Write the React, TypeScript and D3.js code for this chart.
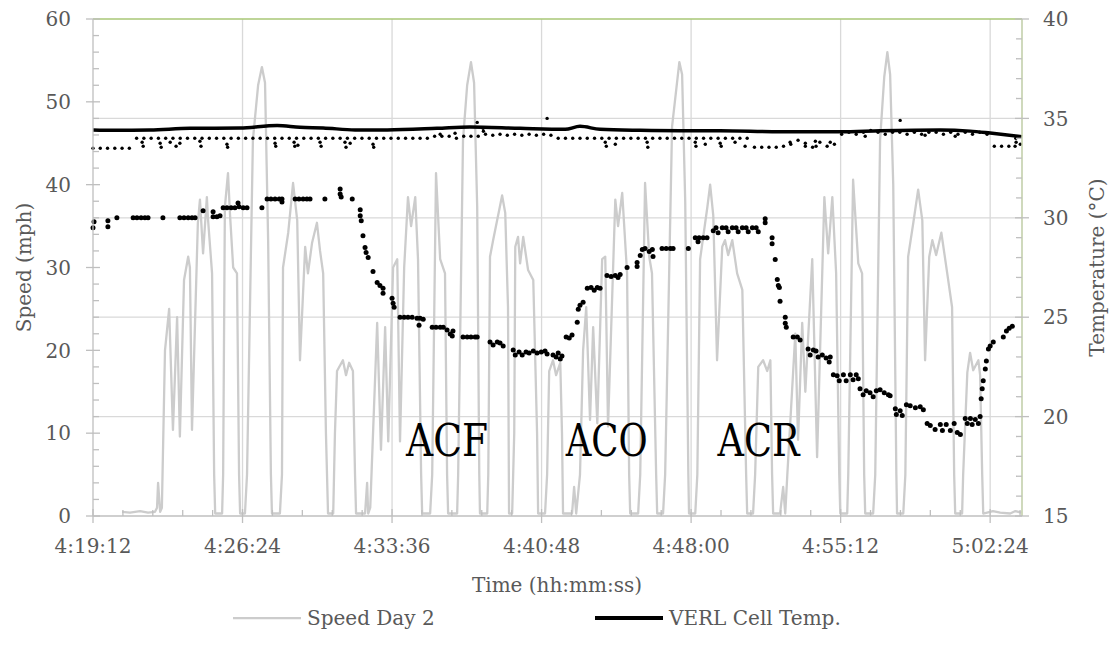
import React from "react";
import * as d3 from "d3";

const W = 1113;
const H = 647;
const T0 = 4 * 3600 + 19 * 60 + 12; // 4:19:12, seconds
const T_MAX = 2684; // elapsed seconds at right edge
const xTicks = [0, 432, 864, 1296, 1728, 2160, 2592];
const xMinorStep = 86.4;
const speedTicks = [0, 10, 20, 30, 40, 50, 60];
const tempTicks = [15, 20, 25, 30, 35, 40];

// Speed Day 2 : [elapsed s, mph]
const speedDay2: [number, number][] = [
  [84, 0.5], [107, 0.4], [136, 0.6], [159, 0.4], [179, 0.5], [185, 1], [188, 4], [194, 0.5], [199, 1],
  [208, 20], [220, 25], [231, 10.4], [243, 24], [251, 9.6], [263, 28.5], [275, 31.3], [280, 30], [286, 10.4],
  [303, 35.4], [309, 38.2], [318, 31.7], [329, 38.5], [332, 36], [344, 29.3], [350, 5], [353, 0.3], [373, 0.3],
  [376, 5], [381, 37.3], [390, 41.4], [396, 36.3], [405, 30], [416, 29.3], [422, 5], [425, 0.3], [439, 0.3],
  [445, 5], [462, 45.4], [477, 52], [488, 54.2], [497, 52.3], [506, 33.3], [514, 5], [517, 0.3], [540, 0.3],
  [546, 5], [549, 30], [564, 34.2], [578, 40.2], [590, 35.7], [598, 18.8], [613, 32.5], [621, 29.3], [633, 33],
  [647, 35.4], [656, 32], [665, 29.3], [673, 10], [679, 0.3], [694, 0.3], [699, 10], [705, 17.5], [722, 18.8],
  [731, 17], [740, 18.5], [751, 17.5], [757, 5], [760, 0.3], [786, 0.3], [792, 4], [795, 0.3], [801, 1],
  [821, 23.3], [832, 8], [844, 22.8], [853, 9], [867, 30], [879, 31], [887, 9], [899, 30], [910, 38.5],
  [919, 35], [931, 38.5], [939, 31], [948, 5], [951, 0.3], [974, 0.3], [980, 5], [991, 41.4], [1003, 31],
  [1017, 29.3], [1023, 5], [1026, 0.3], [1052, 0.3], [1055, 5], [1069, 45.4], [1081, 52], [1092, 54.8],
  [1101, 52.3], [1110, 37.3], [1116, 5], [1118, 0.3], [1139, 0.3], [1142, 5], [1147, 31.3], [1156, 33.3],
  [1182, 38.7], [1191, 36.6], [1199, 25.2], [1202, 0.3], [1211, 0.3], [1217, 10], [1220, 32.5], [1228, 33.7],
  [1234, 30.5], [1243, 33.7], [1257, 29.7], [1272, 28.5], [1283, 10], [1286, 0.3], [1306, 0.3], [1312, 5],
  [1318, 17.5], [1329, 18.8], [1338, 17], [1350, 18.5], [1355, 10], [1358, 0.3], [1384, 0.3], [1390, 3.5],
  [1396, 0.3], [1407, 5], [1416, 20], [1425, 25.2], [1436, 11.6], [1445, 22.8], [1457, 11.2], [1471, 31],
  [1480, 31.3], [1488, 10.8], [1509, 38.2], [1517, 35], [1529, 39], [1543, 29.3], [1549, 5], [1552, 0.3],
  [1575, 0.3], [1581, 5], [1595, 40.2], [1607, 31.3], [1615, 29.3], [1627, 5], [1630, 0.3], [1647, 0.3],
  [1653, 5], [1673, 47], [1694, 54.8], [1702, 53.3], [1711, 38], [1720, 5], [1722, 0.3], [1740, 0.3],
  [1746, 5], [1754, 31], [1775, 37.3], [1783, 40], [1792, 36.3], [1803, 18.8], [1818, 32.5], [1826, 33.3],
  [1835, 31.5], [1847, 33.3], [1861, 29.3], [1876, 27.3], [1887, 5], [1890, 0.3], [1907, 0.3], [1913, 5],
  [1922, 18], [1936, 18.8], [1948, 17.5], [1957, 18.8], [1962, 5], [1965, 0.3], [1985, 0.3], [1994, 3.5],
  [2000, 0.3], [2006, 5], [2029, 22], [2037, 9.2], [2049, 23.3], [2058, 15], [2078, 31], [2092, 7.1],
  [2113, 38.5], [2124, 31.7], [2136, 38.5], [2147, 29.3], [2156, 5], [2159, 0.3], [2179, 0.3], [2182, 5],
  [2196, 40.6], [2211, 30.5], [2222, 29.3], [2228, 5], [2231, 0.3], [2254, 0.3], [2260, 5], [2274, 45.4],
  [2286, 53], [2295, 56], [2303, 53.3], [2312, 40], [2321, 5], [2323, 0.3], [2341, 0.3], [2347, 5],
  [2355, 31.3], [2370, 35.4], [2384, 39.4], [2396, 35.7], [2404, 18.8], [2416, 31.3], [2425, 33.3],
  [2436, 31.5], [2451, 34.2], [2468, 29.3], [2482, 25.2], [2488, 5], [2491, 0.3], [2511, 0.3], [2514, 5],
  [2526, 17.3], [2534, 19.7], [2543, 17.6], [2558, 18.8], [2563, 17], [2569, 5], [2572, 0.3], [2600, 0.6],
  [2621, 0.4], [2650, 0.3], [2665, 0.6], [2682, 0.4],
];

// VERL Cell Temp. : [elapsed s, degC]
const verlCellTemp: [number, number][] = [
  [0, 34.42], [60, 34.4], [165, 34.42], [280, 34.5], [425, 34.52], [532, 34.64], [598, 34.55], [665, 34.52],
  [757, 34.42], [850, 34.42], [994, 34.5], [1089, 34.57], [1234, 34.5], [1364, 34.45], [1407, 34.6],
  [1465, 34.45], [1581, 34.4], [1696, 34.38], [1812, 34.38], [1985, 34.33], [2159, 34.33], [2274, 34.38],
  [2448, 34.42], [2534, 34.36], [2592, 34.26], [2684, 34.08],
];

// Second temperature probe (markers only), one sample every 21 s
const probeStep = 21;
const probeTemp: number[] = [
  33.5, 33.5, 33.5, 33.5, 33.5, 33.5, 34.0, 34.0, 34.0, 34.0, 34.0, 34.0, 34.0, 34.0, 34.0, 34.0,
  34.0, 34.0, 34.0, 34.0, 34.0, 34.0, 34.0, 34.0, 34.0, 34.0, 34.0, 34.0, 34.0, 34.0, 34.0, 34.0,
  34.0, 34.0, 34.0, 34.0, 34.0, 34.0, 34.0, 34.0, 34.0, 34.0, 34.0, 34.0, 34.0, 34.0, 34.0, 34.1,
  34.1, 34.1, 34.0, 34.1, 34.1, 34.1, 34.2, 34.15, 34.2, 34.15, 34.2, 34.15, 34.2, 34.15, 34.2, 34.15,
  34.0, 34.0, 34.0, 34.0, 34.0, 34.0, 34.0, 34.0, 34.0, 34.0, 34.0, 34.0, 34.0, 34.0, 34.0, 34.0,
  34.0, 34.0, 34.0, 34.0, 34.0, 34.0, 34.0, 34.0, 34.0, 34.0, 34.0, 33.55, 33.55, 33.55, 33.55, 33.6,
  33.7, 33.9, 33.6, 33.55, 33.8, 33.6, 33.7, 34.2, 34.3, 34.2, 34.3, 34.4, 34.3, 34.2, 34.3, 34.3,
  34.2, 34.3, 34.2, 34.3, 34.3, 34.2, 34.3, 34.2, 34.3, 34.2, 34.3, 34.2, 33.6, 33.6, 33.6, 33.8,
];
const probeTempExtra: [number, number][] = [
  [142, 33.8], [145, 33.6], [194, 33.75], [197, 33.55], [223, 33.8], [240, 33.6], [251, 33.75],
  [309, 33.85], [312, 33.6], [387, 33.7], [389, 33.55], [526, 33.75], [528, 33.6], [581, 33.8], [583, 33.6],
  [592, 33.65], [656, 33.8], [659, 33.6], [728, 33.8], [731, 33.55], [743, 33.75], [809, 33.7], [811, 33.55],
  [1003, 34.2], [1046, 34.25], [1110, 34.8], [1127, 34.5], [1128, 34.35], [1312, 35.0], [1480, 33.8],
  [1483, 33.6], [1509, 33.7], [1601, 33.8], [1603, 33.55], [1740, 33.8], [1742, 33.6], [1769, 33.7],
  [1812, 33.75], [1815, 33.6], [1855, 33.8], [1884, 33.6], [2014, 33.8], [2058, 33.75], [2087, 33.85],
  [2089, 33.6], [2130, 33.8], [2231, 34.1], [2332, 34.9], [2404, 34.15], [2491, 34.1], [2664, 33.6],
  [2666, 34.0], [2679, 33.7],
];

// Cabin temperature (markers only): [elapsed s, degC]
const cabinTemp: [number, number][] = [
  [0, 29.5], [3, 29.8], [43, 29.55], [43, 29.85], [69, 30.0],
  [116, 30.0], [127, 30.0], [139, 30.0], [150, 30.0], [159, 30.0], [202, 30.0],
  [251, 30.0], [263, 30.0], [275, 30.0], [286, 30.0], [295, 30.0], [318, 30.35],
  [347, 30.3], [347, 30.05], [358, 30.05], [367, 30.1],
  [376, 30.5], [387, 30.5], [399, 30.5], [410, 30.5], [419, 30.75], [422, 30.55], [434, 30.5], [445, 30.5],
  [488, 30.5], [503, 30.95], [514, 30.95], [526, 30.95], [538, 30.95], [546, 30.95], [546, 30.8],
  [584, 30.95], [595, 30.95], [607, 30.95], [618, 30.95], [627, 30.95], [670, 30.95],
  [714, 31.45], [714, 31.2], [717, 31.05], [749, 30.95],
  [772, 30.4], [772, 30.1], [775, 29.85], [780, 29.1], [786, 28.5], [789, 28.25], [795, 28.0], [809, 27.3],
  [821, 26.75], [829, 26.6], [838, 26.45], [838, 26.2], [864, 25.95], [867, 25.7], [870, 25.5],
  [887, 25.0], [899, 25.0], [910, 25.0], [922, 25.0], [936, 24.95], [942, 24.6], [945, 24.95], [954, 24.9],
  [980, 24.5], [991, 24.5], [1003, 24.5], [1012, 24.5],
  [1023, 24.35], [1032, 24.15], [1038, 24.05], [1040, 24.3],
  [1069, 24.0], [1081, 24.0], [1092, 24.0], [1104, 24.0], [1110, 24.0],
  [1147, 23.75], [1156, 23.6], [1168, 23.75], [1176, 23.7], [1185, 23.55],
  [1214, 23.35], [1220, 23.1], [1231, 23.25], [1240, 23.1], [1251, 23.25], [1260, 23.2], [1272, 23.3],
  [1283, 23.2], [1295, 23.25], [1306, 23.3], [1312, 23.15],
  [1329, 23.1], [1338, 23.0], [1344, 23.2], [1350, 22.9], [1355, 23.05],
  [1367, 24.0], [1376, 23.95], [1384, 24.1], [1399, 24.75], [1402, 25.4], [1407, 25.6], [1416, 25.75],
  [1428, 26.45], [1439, 26.5], [1448, 26.35], [1457, 26.5], [1465, 26.45],
  [1485, 27.1], [1497, 27.05], [1509, 27.1], [1517, 27.0], [1523, 27.15], [1543, 27.5],
  [1572, 27.75], [1572, 27.55],
  [1581, 28.1], [1587, 28.4], [1595, 28.45], [1607, 28.3], [1616, 28.4], [1618, 28.05],
  [1644, 28.45], [1656, 28.45], [1668, 28.45], [1676, 28.45], [1720, 28.45],
  [1740, 29.0], [1748, 28.8], [1751, 29.0], [1763, 29.0], [1774, 29.0],
  [1792, 29.35], [1800, 29.5], [1806, 29.25], [1818, 29.5], [1829, 29.5], [1835, 29.3], [1847, 29.5],
  [1858, 29.5], [1864, 29.3], [1876, 29.5], [1887, 29.5], [1893, 29.3], [1905, 29.5], [1916, 29.5], [1922, 29.3],
  [1942, 29.95], [1942, 29.75], [1962, 29.0], [1962, 28.7], [1971, 27.9],
  [1977, 26.9], [1980, 26.6], [1983, 26.5], [1985, 25.8], [2000, 25.0], [2000, 24.7], [2003, 24.5],
  [2023, 24.0], [2035, 24.0], [2043, 23.85],
  [2066, 23.4], [2072, 23.1], [2081, 23.35], [2089, 23.3], [2095, 23.0], [2107, 23.1], [2118, 22.95],
  [2127, 22.75], [2130, 23.0],
  [2139, 22.1], [2150, 22.05], [2156, 21.8], [2168, 22.1], [2176, 21.8], [2188, 22.1], [2196, 21.85],
  [2205, 22.1], [2211, 21.9],
  [2216, 21.4], [2225, 21.1], [2234, 21.3], [2245, 21.2], [2254, 21.0], [2263, 21.3], [2274, 21.35],
  [2286, 21.2], [2298, 21.1], [2303, 21.05],
  [2318, 20.4], [2321, 20.1], [2332, 20.3], [2338, 20.05], [2350, 20.6], [2361, 20.55], [2376, 20.45],
  [2390, 20.5], [2399, 20.35],
  [2410, 19.65], [2419, 19.55], [2433, 19.35], [2448, 19.6], [2454, 19.3], [2465, 19.6], [2477, 19.3],
  [2488, 19.65], [2497, 19.2], [2506, 19.1],
  [2520, 19.9], [2526, 19.65], [2535, 19.9], [2540, 19.6], [2549, 19.85], [2558, 19.65], [2563, 20.0],
  [2566, 20.9], [2569, 21.4], [2572, 21.8], [2578, 22.4], [2581, 22.8],
  [2587, 23.4], [2592, 23.55], [2601, 23.75],
  [2630, 24.0], [2639, 24.3], [2647, 24.45], [2656, 24.55],
];

const annotations: { label: string; t: number; speed: number }[] = [
  { label: "ACF", t: 1023, speed: 7.3 },
  { label: "ACO", t: 1484, speed: 7.3 },
  { label: "ACR", t: 1923, speed: 7.3 },
];

const legendItems = [
  { label: "Speed Day 2", color: "#cccccc", width: 2.25 },
  { label: "VERL Cell Temp.", color: "#000000", width: 4 },
];

const FONT = "DejaVu Serif, serif";
const GRAY_TXT = "#595959";

function fmtTime(t: number) {
  const s = Math.round(T0 + t);
  const h = Math.floor(s / 3600);
  const m = Math.floor((s % 3600) / 60);
  const sec = s % 60;
  return `${h}:${String(m).padStart(2, "0")}:${String(sec).padStart(2, "0")}`;
}

export default function App() {
  const L = 93, R = 1022, T = 19, B = 516;
  const x = d3.scaleLinear().domain([0, T_MAX]).range([L, R]);
  const yS = d3.scaleLinear().domain([0, 60]).range([B, T]);
  const yT = d3.scaleLinear().domain([15, 40]).range([B, T]);

  const speedLine = d3
    .line<[number, number]>()
    .x((d) => x(d[0]))
    .y((d) => yS(d[1]));
  const tempLine = d3
    .line<[number, number]>()
    .x((d) => x(d[0]))
    .y((d) => yT(d[1]))
    .curve(d3.curveMonotoneX);

  const minorX: number[] = [];
  for (let i = 1; i * xMinorStep <= T_MAX; i++) if (i % 5 !== 0) minorX.push(i * xMinorStep);
  const minorS: number[] = [];
  for (let v = 2; v < 60; v += 2) if (v % 10 !== 0) minorS.push(v);
  const minorT: number[] = [];
  for (let v = 16; v < 40; v++) if (v % 5 !== 0) minorT.push(v);

  const axisGray = "#bfbfbf";
  const gridGray = "#d9d9d9";
  const txt = { fontFamily: FONT, fontSize: 20, fill: GRAY_TXT } as const;

  return (
    <div style={{ position: "absolute", left: 0, top: 0 }}>
      <svg width={W} height={H} style={{ display: "block", background: "#fff" }}>
        <rect x={0} y={0} width={W} height={H} fill="#fff" />
        {/* gridlines */}
        {tempTicks.slice(1, -1).map((v) => (
          <line key={"gh" + v} x1={L} x2={R} y1={yT(v)} y2={yT(v)} stroke={gridGray} strokeWidth={1.3} />
        ))}
        {xTicks.slice(1).map((t) => (
          <line key={"gv" + t} x1={x(t)} x2={x(t)} y1={T} y2={B} stroke={gridGray} strokeWidth={1.3} />
        ))}
        {/* top line */}
        <line x1={L} x2={R} y1={T} y2={T} stroke="#a9c776" strokeWidth={1.5} />

        {/* speed */}
        <path d={speedLine(speedDay2) || ""} fill="none" stroke="#cccccc" strokeWidth={2.3} strokeLinejoin="round" />

        {/* probe temp dots */}
        {probeTemp.map((v, i) => (
          <circle key={"p" + i} cx={x(i * probeStep)} cy={yT(v)} r={1.7} fill="#000" />
        ))}
        {probeTempExtra.map((d, i) => (
          <circle key={"pe" + i} cx={x(d[0])} cy={yT(d[1])} r={1.7} fill="#000" />
        ))}

        {/* VERL cell temp */}
        <path d={tempLine(verlCellTemp) || ""} fill="none" stroke="#000" strokeWidth={3.5} strokeLinejoin="round" />

        {/* cabin temp markers */}
        {cabinTemp.map((d, i) => (
          <circle key={"c" + i} cx={x(d[0])} cy={yT(d[1])} r={2.5} fill="#000" />
        ))}

        {/* left axis */}
        <line x1={L} x2={L} y1={T} y2={B} stroke={axisGray} strokeWidth={1.3} />
        {speedTicks.map((v) => (
          <g key={"ls" + v}>
            <line x1={L - 7} x2={L + 7} y1={yS(v)} y2={yS(v)} stroke={axisGray} strokeWidth={1.3} />
            <text x={71} y={yS(v)} dy="0.36em" textAnchor="end" {...txt}>
              {v}
            </text>
          </g>
        ))}
        {minorS.map((v) => (
          <line key={"lm" + v} x1={L} x2={L + 6} y1={yS(v)} y2={yS(v)} stroke={axisGray} strokeWidth={1.3} />
        ))}

        {/* right axis */}
        <line x1={R} x2={R} y1={T} y2={B} stroke="#bfcca6" strokeWidth={1.5} />
        {tempTicks.map((v) => (
          <g key={"rt" + v}>
            <line x1={R - 7} x2={R + 7} y1={yT(v)} y2={yT(v)} stroke={axisGray} strokeWidth={1.3} />
            <text x={1043} y={yT(v)} dy="0.36em" textAnchor="start" {...txt}>
              {v}
            </text>
          </g>
        ))}
        {minorT.map((v) => (
          <line key={"rm" + v} x1={R - 6} x2={R} y1={yT(v)} y2={yT(v)} stroke={axisGray} strokeWidth={1.3} />
        ))}

        {/* bottom axis */}
        <line x1={L} x2={R} y1={B} y2={B} stroke={axisGray} strokeWidth={1.3} />
        {xTicks.map((t) => (
          <g key={"xt" + t}>
            <line x1={x(t)} x2={x(t)} y1={B - 7} y2={B + 7} stroke={axisGray} strokeWidth={1.3} />
            <text x={x(t)} y={553} textAnchor="middle" {...txt}>
              {fmtTime(t)}
            </text>
          </g>
        ))}
        {minorX.map((t) => (
          <line key={"xm" + t} x1={x(t)} x2={x(t)} y1={B - 6} y2={B} stroke={axisGray} strokeWidth={1.3} />
        ))}

        {/* annotations */}
        {annotations.map((a) => (
          <text
            key={a.label}
            x={x(a.t)}
            y={yS(a.speed)}
            textAnchor="middle"
            fontFamily={FONT}
            fontSize={45}
            fill="#000"
            textLength={82}
            lengthAdjust="spacingAndGlyphs"
          >
            {a.label}
          </text>
        ))}

        {/* axis titles */}
        <text x={557} y={585} dy="0.35em" textAnchor="middle" {...txt}>
          Time (hh:mm:ss)
        </text>
        <text transform={`translate(24,${(T + B) / 2}) rotate(-90)`} dy="0.35em" textAnchor="middle" {...txt}>
          Speed (mph)
        </text>
        <text transform={`translate(1097,${(T + B) / 2}) rotate(-90)`} dy="0.35em" textAnchor="middle" {...txt}>
          Temperature (°C)
        </text>

        {/* legend */}
        {legendItems.map((it, i) => {
          const lx = i === 0 ? 233 : 595;
          return (
            <g key={it.label}>
              <line x1={lx} x2={lx + 68} y1={618} y2={618} stroke={it.color} strokeWidth={it.width} />
              <text x={lx + 74} y={618} dy="0.35em" {...txt}>
                {it.label}
              </text>
            </g>
          );
        })}
      </svg>
    </div>
  );
}
